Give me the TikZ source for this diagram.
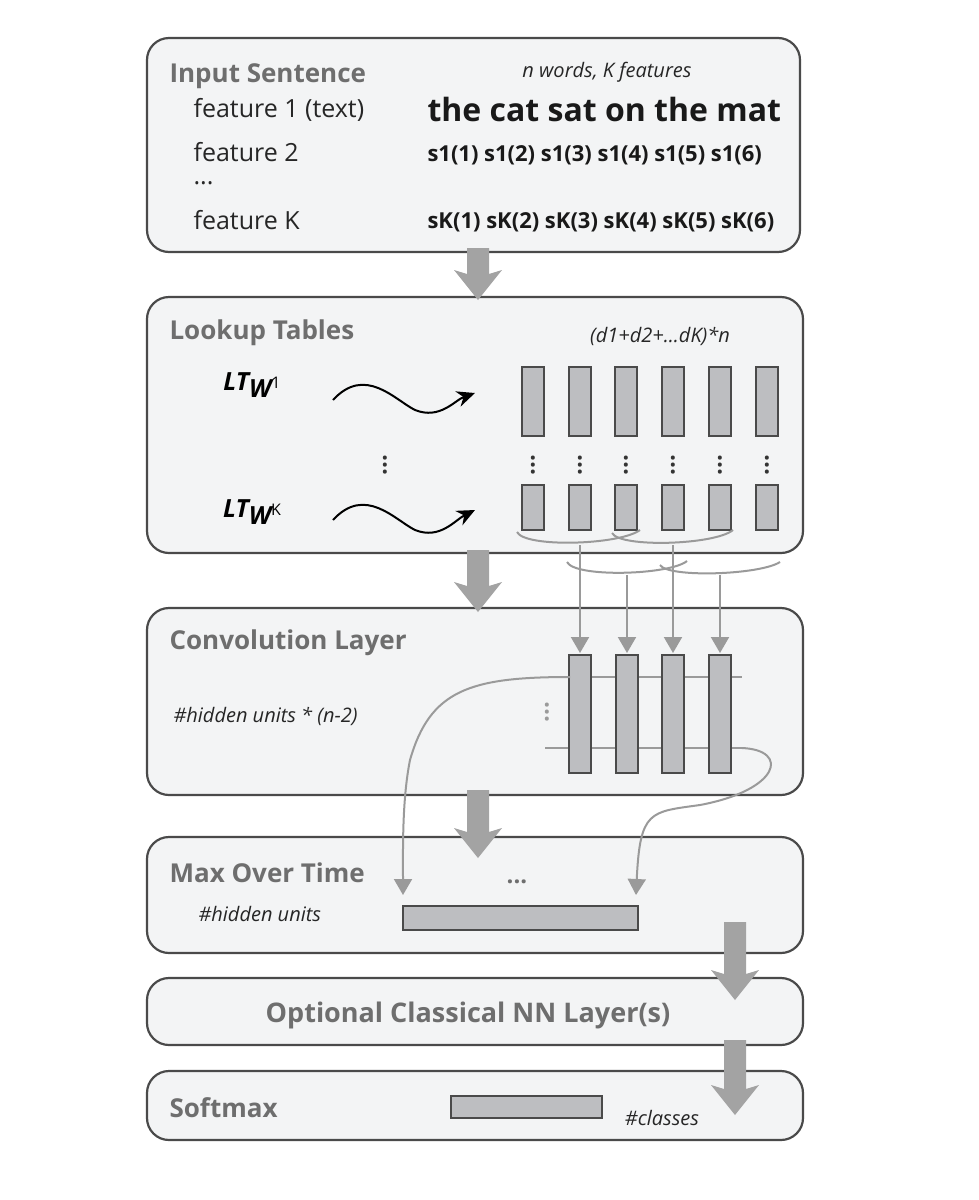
\documentclass[tikz,border=0pt]{standalone}
\usepackage{fontspec}
\setmainfont{Open Sans}
\usetikzlibrary{arrows.meta,decorations.pathmorphing}
\definecolor{panel}{HTML}{F3F4F5}
\definecolor{edge}{HTML}{4A4A4A}
\definecolor{head}{HTML}{6E6E6E}
\definecolor{barc}{HTML}{BDBEC1}
\definecolor{conn}{HTML}{9A9A9A}
\definecolor{big}{HTML}{A3A3A3}
\newcommand{\ltw}[1]{LT\raisebox{-7pt}{W}\raisebox{2pt}{\normalfont\fontsize{16}{16}\selectfont #1}}
\begin{document}
\begin{tikzpicture}[x=1pt,y=-1pt,
 pan/.style={draw=edge,line width=2.2pt,fill=panel,rounded corners=22pt},
 ttl/.style={anchor=west,text=head,font=\bfseries\fontsize{26}{28}\selectfont},
 txt/.style={anchor=west,text=black!85,font=\fontsize{25}{27}\selectfont},
 itl/.style={text=black!85,font=\itshape\fontsize{20}{22}\selectfont},
 bar/.style={draw=edge,line width=1.3pt,fill=barc},
 con/.style={draw=conn,line width=2pt},
 conA/.style={con,-{Triangle[width=18pt,length=16pt]}},
 bigA/.style={draw=none,fill=big},
 vdots/.style={text=black!80,font=\bfseries\fontsize{24}{24}\selectfont}]
\useasboundingbox (0,0) rectangle (979,1200);
\fill[white] (0,0) rectangle (979,1200);
% panels
\draw[pan] (147,38) rectangle (800,252);
\draw[pan] (147,297) rectangle (803,553);
\draw[pan] (147,608) rectangle (803,795);
\draw[pan] (147,837) rectangle (803,953);
\draw[pan] (147,978) rectangle (803,1045);
\draw[pan] (147,1071) rectangle (803,1140);
% big arrows
\foreach \x/\a/\b in {478/248/300, 478/550/612, 478/790/858, 735/922/1000, 735/1040/1115}{
 \fill[bigA] (\x-11,\a) -- (\x+11,\a) -- (\x+11,\b-26) -- (\x+24,\b-30) -- (\x,\b) -- (\x-24,\b-30) -- (\x-11,\b-26) -- cycle;}
% panel 1
\node[ttl] (t1) at (166,76) {Input Sentence};
\node[txt] (f1) at (190,110) {feature 1 (text)};
\node[txt] (f2) at (190,152) {feature 2};
\node[txt] (fd) at (190,183) {...};
\node[txt] (fk) at (190,220) {feature K};
\node[itl] (nw) at (607,72) {n words, K features};
\node[anchor=west,font=\bfseries\fontsize{32}{34}\selectfont,text=black!90] (cat) at (424,109) {the cat sat on the mat};
\node[anchor=west,font=\bfseries\fontsize{22}{24}\selectfont,text=black!90] (s1) at (424,155) {s1(1) s1(2) s1(3) s1(4) s1(5) s1(6)};
\node[anchor=west,font=\bfseries\fontsize{22}{24}\selectfont,text=black!90] (sk) at (424,222) {sK(1) sK(2) sK(3) sK(4) sK(5) sK(6)};
% panel 2
\node[ttl] (t2) at (166,333) {Lookup Tables};
\node[itl] (dd) at (660,336) {(d1+d2+...dK)*n};
\node[font=\bfseries\itshape\fontsize{25}{27}\selectfont,text=black] (lt1) at (252,385) {\ltw{1}};
\node[font=\bfseries\itshape\fontsize{25}{27}\selectfont,text=black] (ltk) at (252,512) {\ltw{K}};
\coordinate (w1a) at (333,400); \coordinate (w1b) at (475,393);
\coordinate (wka) at (333,520); \coordinate (wkb) at (475,510);
\draw[line width=2pt,-{Stealth[length=18pt,width=16pt]}] (w1a) .. controls (365,365) and (395,400) .. (415,410) .. controls (440,420) and (455,400) .. (w1b);
\draw[line width=2pt,-{Stealth[length=18pt,width=16pt]}] (wka) .. controls (365,485) and (395,520) .. (415,530) .. controls (440,540) and (455,520) .. (wkb);
\node[vdots] (vd) at (385,465) {\rotatebox{90}{...}};
\foreach \i/\x in {1/533,2/580,3/626,4/673,5/720,6/767}{
 \draw[bar] (\x-11,367) rectangle (\x+11,436);
 \draw[bar] (\x-11,485) rectangle (\x+11,530);
 \node[vdots] (d\i) at (\x,465) {\rotatebox{90}{...}};}
% lookup -> conv connectors
\draw[con] (517,532) .. controls (525,548) and (620,545) .. (640,530);
\draw[con] (612,533) .. controls (620,548) and (715,545) .. (733,530);
\draw[con] (567,562) .. controls (575,578) and (670,575) .. (687,561);
\draw[con] (660,565) .. controls (668,578) and (760,575) .. (780,562);
\foreach \x/\a in {580/545,627/575,673/545,720/575}{
 \draw[conA] (\x,\a) -- (\x,653);}
% panel 3
\node[ttl] (t3) at (166,643) {Convolution Layer};
\node[itl,anchor=west] (hu) at (170,716) {\#hidden units * (n-2)};
\draw[con,line width=1.8pt] (570,677) -- (742,677);
\draw[con,line width=1.8pt] (545,748) -- (742,748);
\foreach \x in {580,627,673,720}{ \draw[bar] (\x-11,655) rectangle (\x+11,773);}
\node[vdots,text=conn] (cd) at (547,712) {\rotatebox{90}{...}};
% conv -> max connectors
\draw[conA] (570,677) .. controls (470,677) and (430,690) .. (410,760) .. controls (402,800) and (403,850) .. (403,895);
\draw[conA] (742,748) .. controls (790,750) and (780,790) .. (700,805) .. controls (650,812) and (640,810) .. (636,895);
% panel 4
\node[ttl] (t4) at (166,873) {Max Over Time};
\node[itl,anchor=west] (hu2) at (195,914) {\#hidden units};
\node[text=head,font=\bfseries\fontsize{24}{24}\selectfont] (md) at (517,882) {...};
\draw[bar] (403,906) rectangle (638,930);
% panel 5
\node[ttl,anchor=center,font=\bfseries\fontsize{27}{29}\selectfont] (t5) at (468,1015) {Optional Classical NN Layer(s)};
% panel 6
\node[ttl] (t6) at (166,1108) {Softmax};
\draw[bar] (451,1096) rectangle (602,1118);
\node[itl] (cl) at (662,1118) {\#classes};
\end{tikzpicture}
\end{document}
